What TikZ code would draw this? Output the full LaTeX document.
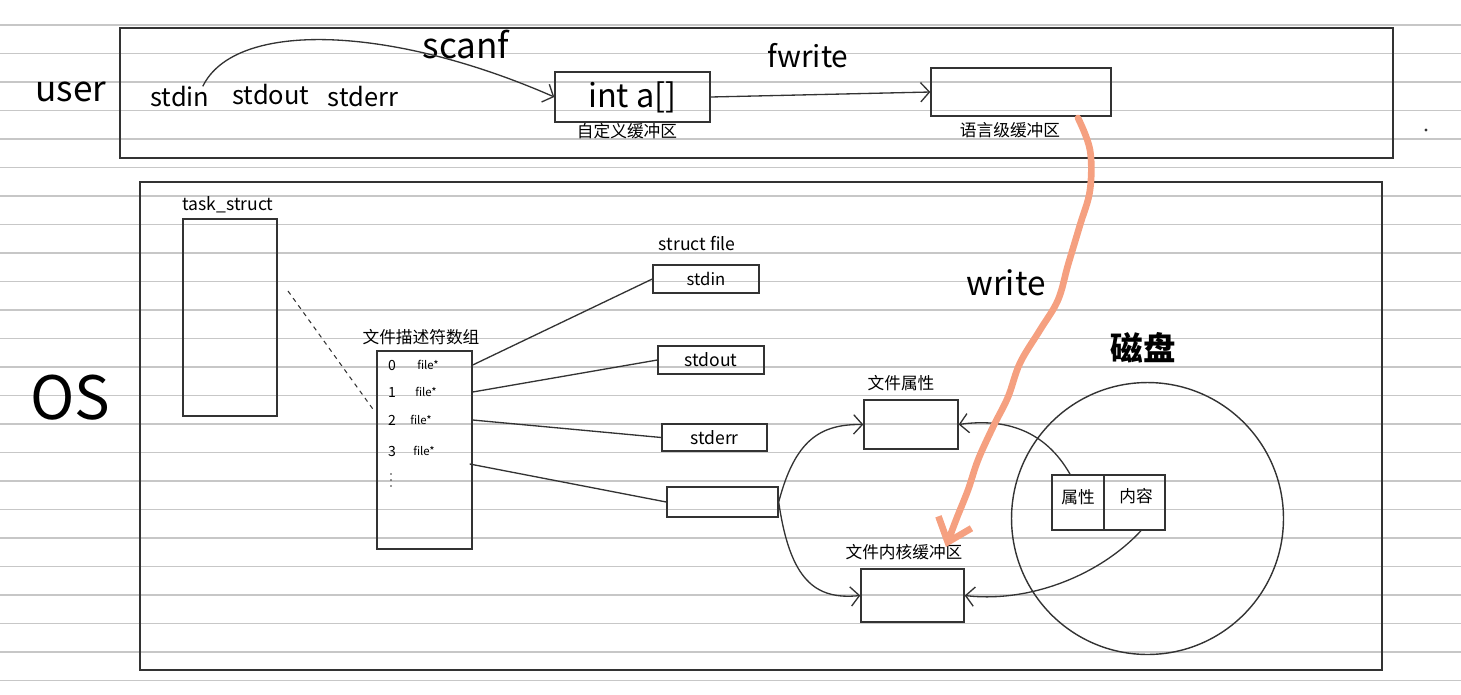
\documentclass[tikz,border=0pt]{standalone}
\usepackage{fontspec}
\setmainfont{Noto Sans CJK SC}
\usepackage{tikz}
\usetikzlibrary{arrows.meta}
\definecolor{writeorange}{RGB}{245,160,128}

\begin{document}
\begin{tikzpicture}[
  x=0.02cm, y=-0.02cm,
  fsz/.style={font=\fontsize{#1}{#1}\selectfont},
  lab/.style={
    inner sep=0pt,
    text=black
  },
  rule/.style={
    draw=black!22,
    line width=1pt
  },
  frame/.style={
    draw=black!80,
    line width=0.8pt
  },
  box/.style={
    draw=black!80,
    line width=0.8pt,
    inner sep=0pt
  },
  link/.style={
    draw=black!80,
    line width=0.75pt
  },
  arrow/.style={
    link,
    -{Straight Barb[length=5pt, width=11pt]}
  },
  writepath/.style={
    draw=writeorange,
    line width=3.8pt,
    line cap=round,
    line join=round,
    -{Straight Barb[length=12pt, width=20pt]}
  }
]
\useasboundingbox (0,0) rectangle (1461,694);

% Ruled paper
\foreach \k in {0,...,23}
  \draw[rule] (0,25+28.5*\k) -- (1461,25+28.5*\k);

% ---------------- User space ----------------
\draw[frame] (120,28) rectangle (1393,158);
\node[lab, fsz=20pt] (user) at (71,92) {user};

\node[lab, fsz=14.5pt] (stdinU) at (180,97) {stdin};
\node[lab, fsz=14.5pt] (stdoutU) at (271,95) {stdout};
\node[lab, fsz=14.5pt] (stderrU) at (363,97) {stderr};

\node[lab, fsz=20pt] (scanf) at (466,45) {scanf};
\node[box, minimum width=3.1cm, minimum height=1cm, fsz=18.5pt] (inta) at (632.5,97) {int a[]};
\node[lab, fsz=9.5pt] (inta label) at (627,131) {自定义缓冲区};

\node[lab, fsz=17pt] (fwrite) at (808,56) {fwrite};
\node[box, minimum width=3.6cm, minimum height=0.96cm] (langbuf) at (1021,92) {};
\node[lab, fsz=9.5pt] (langbuf label) at (1010,130) {语言级缓冲区};
\fill[black!80] (1426,130) circle (0.9pt);

\draw[arrow] ([xshift=-4pt]stdinU.north east) .. controls (235,20) and (390,25) .. (inta.west);
\draw[arrow] (inta.east) -- (langbuf.west);

% ---------------- Kernel ----------------
\draw[frame] (140,182) rectangle (1382,670);
\node[lab, fsz=34pt] (os) at (70,398) {OS};

% task_struct
\node[lab, fsz=10pt] (task label) at (228,205) {task\_struct};
\node[box, minimum width=1.88cm, minimum height=3.94cm] (task) at (230,317.5) {};

% fd array
\node[lab, fsz=9.5pt] (fd label) at (421,337) {文件描述符数组};
\node[box, minimum width=1.9cm, minimum height=3.96cm] (fdarr) at (424.5,450) {};
\foreach \i/\y/\fx in {0/365/428, 1/392/426, 2/420/421, 3/451/424} {
  \node[lab, fsz=8pt] (n\i) at (392,\y) {\i};
  \node[lab, fsz=6.5pt] (f\i) at (\fx,\y) {file*};
}
\foreach \d in {474,480,486}
  \fill[black!80] (391,\d) circle (0.45pt);

\coordinate (dash start) at (288,291);
\coordinate (dash end) at (375,412);
\draw[link, line width=0.6pt, dash pattern=on 2.5pt off 2.5pt] (dash start) -- (dash end);

% struct file
\node[lab, fsz=10pt] (sf label) at (697,243) {struct file};
\node[box, minimum width=2.12cm, minimum height=0.56cm, fsz=9.5pt] (fin) at (706,279) {stdin};
\node[box, minimum width=2.12cm, minimum height=0.56cm, fsz=10pt] (fout) at (711,360) {stdout};
\node[box, minimum width=2.1cm, minimum height=0.54cm, fsz=10pt] (ferr) at (714.5,437.5) {stderr};
\node[box, minimum width=2.22cm, minimum height=0.6cm] (fnew) at (722.5,502) {};

\draw[link] (fdarr.east |- f0) -- (fin.west);
\draw[link] (fdarr.east |- f1) -- (fout.west);
\draw[link] (fdarr.east |- f2) -- (ferr.west);
\path (fdarr.east |- f3) ++(-3,13) coordinate (r3);
\draw[link] (r3) -- (fnew.west);

% file attributes / kernel buffer
\node[lab, fsz=9.5pt] (attrs label) at (901,383) {文件属性};
\node[box, minimum width=1.88cm, minimum height=0.98cm] (attrs) at (911,424.5) {};
\node[lab, fsz=9.5pt] (kbuf label) at (904,552) {文件内核缓冲区};
\node[box, minimum width=2.06cm, minimum height=1.06cm] (kbuf) at (912.5,595.5) {};

\draw[arrow] (fnew.east) .. controls (795,440) and (820,424) .. (attrs.west);
\draw[arrow] (fnew.east) .. controls (790,580) and (815,600) .. (kbuf.west);

% ---------------- Disk ----------------
\node[lab, font={\fontsize{18.5pt}{18.5pt}\selectfont\bfseries}] (disk label) at (1143,348) {磁盘};
\node[draw=black!80, circle, minimum size=5.44cm, line width=0.8pt] (disk) at (1147.5,518.5) {};
\node[box, minimum width=1.04cm, minimum height=1.1cm] (attrcell) at (1078,502.5) {};
\node[box, minimum width=1.22cm, minimum height=1.1cm] (contcell) at (1134.5,502.5) {};
\node[lab, fsz=9.5pt] (attr text) at (1078,497) {属性};
\node[lab, fsz=9.5pt] (cont text) at (1136,496) {内容};

\draw[arrow] ([xshift=-4.5pt]attrcell.north) .. controls (1045,430) and (1005,418) .. (attrs.east);
\draw[arrow] ([xshift=3.7pt]contcell.south) .. controls (1100,575) and (1030,603) .. (kbuf.east);

% write
\node[lab, fsz=19pt] (write) at (1006,283) {write};
\coordinate (write top) at (1078,118);
\coordinate (write tip) at (946,547);
\draw[writepath] plot[smooth, tension=0.6] coordinates {
  (write top) (1090,150) (1090,190) (1080,225) (1068,265) (1058,300)
  (1040,330) (1020,363) (1008,397) (993,427) (978,460) (968,490)
  (956,520) (write tip)};

\end{tikzpicture}
\end{document}
